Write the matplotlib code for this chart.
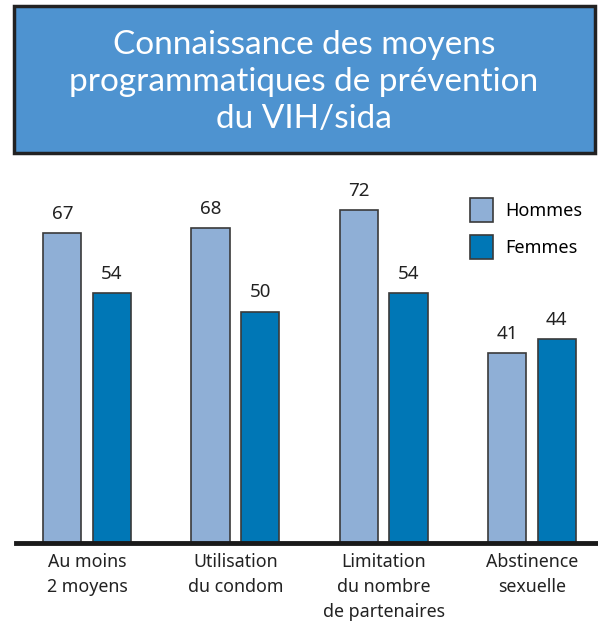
import numpy as np
import matplotlib.pyplot as plt
from matplotlib.patches import Rectangle

categories = ["Au moins\n2 moyens", "Utilisation\ndu condom",
              "Limitation\ndu nombre\nde partenaires", "Abstinence\nsexuelle"]
hommes = [67, 68, 72, 41]
femmes = [54, 50, 54, 44]
series_names = ["Hommes", "Femmes"]
title = "Connaissance des moyens\nprogrammatiques de prévention\ndu VIH/sida"

c_h = "#8fafd6"
c_f = "#0077b6"
edge = "#3a3a3a"

plt.rcParams['font.family'] = ['Noto Sans', 'DejaVu Sans']

fig = plt.figure(figsize=(5.98, 6.27), dpi=100)

# title box
box = Rectangle((14 / 598, 1 - 153 / 627), 581 / 598, 147 / 627,
                transform=fig.transFigure, facecolor="#4e93d0",
                edgecolor="#222222", linewidth=2.5)
fig.patches.append(box)
fig.text(304 / 598, 1 - 82 / 627, title, ha="center", va="center",
         color="white", fontsize=24, linespacing=1.3,
         family=['Lato', 'DejaVu Sans'])

ax = fig.add_axes([16 / 598, 84 / 627, 582 / 598, 0.5904])
x = np.arange(len(categories))
w = 0.257
off = 0.168
bh = ax.bar(x - off, hommes, w, color=c_h, edgecolor=edge, linewidth=1.2,
            label=series_names[0])
bf = ax.bar(x + off, femmes, w, color=c_f, edgecolor=edge, linewidth=1.2,
            label=series_names[1])

for bars, vals in ((bh, hommes), (bf, femmes)):
    for b, v in zip(bars, vals):
        ax.text(b.get_x() + b.get_width() / 2, v + 2.2, str(v),
                ha="center", va="bottom", fontsize=13.5, color="#222222")

ax.set_xlim(-0.48, 3.446)
ax.set_ylim(0, 80)
ax.set_yticks([])
ax.set_xticks(x)
ax.set_xticklabels(categories, fontsize=12.8, color="#222222", linespacing=1.5,
                   va="top")
ax.tick_params(axis="x", length=0, pad=7)
for s in ("top", "right", "left"):
    ax.spines[s].set_visible(False)
ax.spines["bottom"].set_linewidth(3.5)
ax.spines["bottom"].set_color("#1a1a1a")

ax.legend(loc="upper left", bbox_to_anchor=(0.78, 0.932), frameon=False,
          fontsize=13, handlelength=1.28, handleheight=1.65, labelspacing=0.75,
          handletextpad=0.65, borderpad=0, borderaxespad=0)

fig.savefig("out.png", dpi=100)
